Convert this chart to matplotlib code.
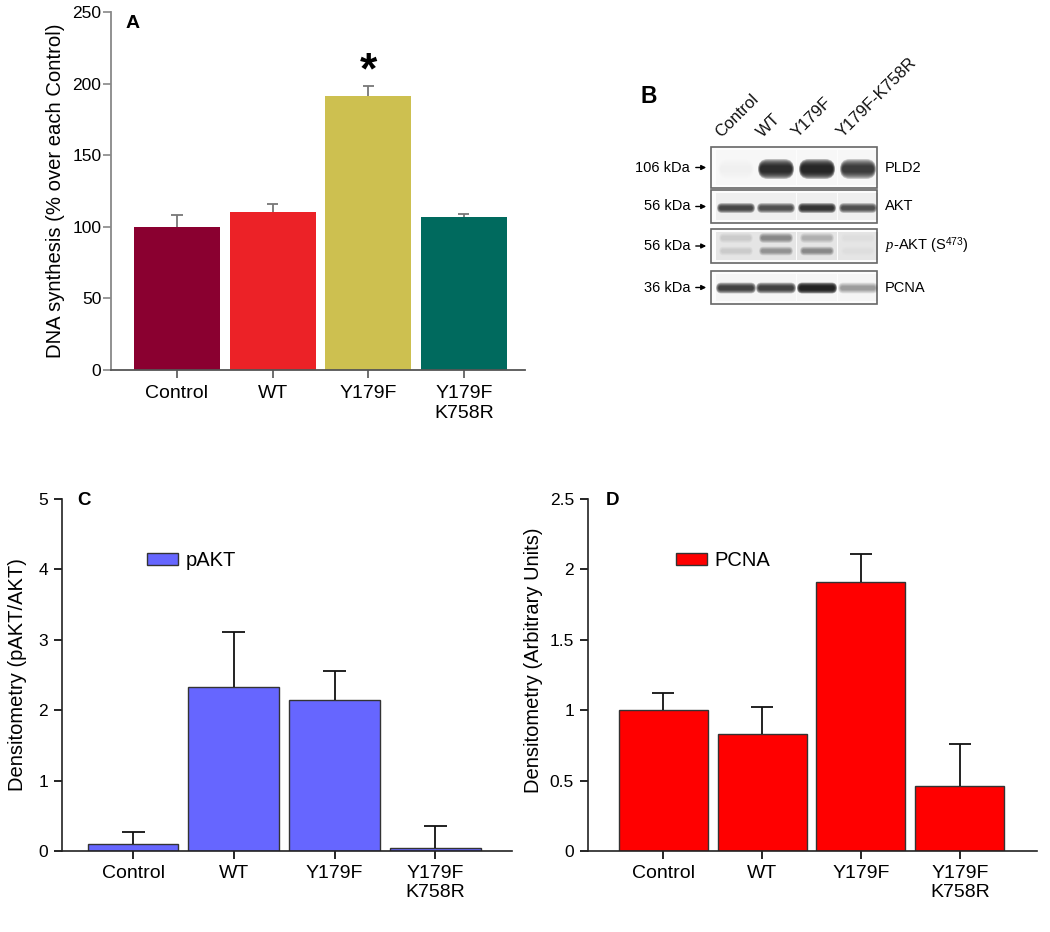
import numpy as np
import matplotlib
matplotlib.use("Agg")
import matplotlib.pyplot as plt
from matplotlib.patches import Rectangle, FancyBboxPatch

plt.rcParams['font.family'] = ['Liberation Sans', 'DejaVu Sans']
plt.rcParams['mathtext.fontset'] = 'custom'
plt.rcParams['mathtext.rm'] = 'Liberation Sans'
plt.rcParams['mathtext.it'] = 'Liberation Serif:italic'

W, H = 1050, 932

# data
groups = ['Control', 'WT', 'Y179F', 'Y179F\nK758R']

dna_synth = [100, 110, 191, 107]
dna_err = [8, 6, 7, 2]
dna_colors = ['#8A0030', '#EC2227', '#CDC050', '#006A5E']

pakt = [0.10, 2.33, 2.15, 0.04]
pakt_err = [0.17, 0.78, 0.40, 0.31]

pcna = [1.00, 0.83, 1.91, 0.46]
pcna_err = [0.12, 0.19, 0.20, 0.30]

# western blot (panel B), band darkness 0..1 per lane
blot_lanes = ['Control', 'WT', 'Y179F', 'Y179F-K758R']
blot_rows = ['PLD2', 'AKT', '$p$-AKT (S$^{473}$)', 'PCNA']
blot_kda = ['106 kDa', '56 kDa', '56 kDa', '36 kDa']
pld2_band = [0.04, 0.92, 0.95, 0.85]
akt_band = [0.80, 0.75, 0.88, 0.75]
pakt_upper = [0.12, 0.45, 0.25, 0.03]
pakt_lower = [0.12, 0.40, 0.45, 0.03]
pcna_band = [0.82, 0.82, 0.97, 0.40]

fig = plt.figure(figsize=(W / 100, H / 100), dpi=100)


def px_axes(x0, y0, x1, y1):
    return fig.add_axes([x0 / W, 1 - y1 / H, (x1 - x0) / W, (y1 - y0) / H])


def up_errbar(a, vals, errs, color, cap, lw):
    tops = np.array(vals) + np.array(errs)
    a.vlines(x, vals, tops, color=color, lw=lw, zorder=3)
    a.hlines(tops, x - cap, x + cap, color=color, lw=lw, zorder=3)


x = np.arange(len(groups))

# ---- panel A
ax = px_axes(111, 12, 525, 370)
ax.bar(x, dna_synth, width=0.9, color=dna_colors, zorder=2)
up_errbar(ax, dna_synth, dna_err, '#777777', 0.058, 1.3)
ax.set_xlim(-0.69, 3.64)
ax.set_ylim(0, 250)
ax.set_yticks(range(0, 251, 50))
ax.set_xticks(x)
ax.set_xticklabels(groups)
ax.tick_params(axis='y', labelsize=12.5, length=6, width=1.2, color='#888888', pad=1)
ax.tick_params(axis='x', labelsize=14, length=6, width=1.2, color='#555555', pad=5)
for s in ['top', 'right']:
    ax.spines[s].set_visible(False)
ax.spines['left'].set_color('#888888')
ax.spines['left'].set_linewidth(1.3)
ax.spines['bottom'].set_color('#555555')
ax.spines['bottom'].set_linewidth(1.3)
ax.set_ylabel('DNA synthesis (% over each Control)', fontsize=14.6)
ax.yaxis.set_label_coords(-0.11, 0.5)
ax.text(2, 208, '*', ha='center', va='center', fontsize=32, fontweight='bold')


def densito(box, vals, errs, color, label, ymax, yticks, ytl, ylabel, lx,
            ylab_x, ylab_y):
    a = px_axes(*box)
    a.bar(x, vals, width=0.9, color=color, edgecolor='#333333', linewidth=1.0,
          label=label, zorder=2)
    up_errbar(a, vals, errs, '#111111', 0.114, 1.3)
    a.set_ylim(0, ymax)
    a.set_yticks(yticks)
    a.set_yticklabels(ytl)
    a.set_xticks(x)
    a.set_xticklabels(groups)
    a.tick_params(axis='y', labelsize=12.5, length=6, width=1.2, pad=4)
    a.tick_params(axis='x', labelsize=14, length=6, width=1.2, pad=4)
    for s in ['top', 'right']:
        a.spines[s].set_visible(False)
    for s in ['left', 'bottom']:
        a.spines[s].set_linewidth(1.2)
        a.spines[s].set_color('#222222')
    a.set_ylabel(ylabel, fontsize=14.5)
    a.yaxis.set_label_coords(ylab_x, ylab_y)
    a.legend(loc='center left', bbox_to_anchor=(lx, 0.825), frameon=False,
             fontsize=14.5, handlelength=1.55, handleheight=0.55,
             handletextpad=0.35, borderpad=0, borderaxespad=0)
    return a


axc = densito((62, 499, 512, 851), pakt, pakt_err, '#6666FF', 'pAKT', 5,
              range(0, 6), [str(v) for v in range(0, 6)],
              'Densitometry (pAKT/AKT)', 0.189, -0.078, 0.5)
axc.set_xlim(-0.705, 3.76)

axd = densito((588, 499, 1037, 851), pcna, pcna_err, '#FF0000', 'PCNA', 2.5,
              [0, 0.5, 1, 1.5, 2, 2.5], ['0', '0.5', '1', '1.5', '2', '2.5'],
              'Densitometry (Arbitrary Units)', 0.196, -0.1, 0.543)
axd.set_xlim(-0.76, 3.78)

# ---- overlay: panel letters + western blot
ov = fig.add_axes([0, 0, 1, 1])
ov.set_xlim(0, W)
ov.set_ylim(H, 0)
ov.axis('off')

ov.text(126, 15, 'A', fontsize=14, fontweight='bold', va='top', ha='left')
ov.text(640, 85, 'B', fontsize=16.5, fontweight='bold', va='top', ha='left')
ov.text(77, 492, 'C', fontsize=13.5, fontweight='bold', va='top', ha='left')
ov.text(606, 492, 'D', fontsize=13.5, fontweight='bold', va='top', ha='left')

lane_x = [736, 776, 817, 858]
label_x = [721, 763, 798, 843]
for lx_, name in zip(label_x, blot_lanes):
    ov.text(lx_, 138, name, rotation=45, rotation_mode='anchor', ha='left',
            va='baseline', fontsize=12, color='#111111')


def band(cx, cy, w, h, v, layers=7):
    a = 1 - (1 - v * 0.96) ** (1 / layers)
    for k in range(layers):
        s = 1 - k / (layers + 2)
        ww, hh = w * (0.8 + 0.2 * s), h * s
        ov.add_patch(FancyBboxPatch((cx - ww / 2, cy - hh / 2), ww, hh,
                                    boxstyle='round,pad=0,rounding_size=%.2f' % (hh / 2),
                                    facecolor='#141414', alpha=a, lw=0))


boxes = [(147, 188), (190, 223), (229, 263), (271, 304)]
lane_bg = [0.02, 0.06, 0.10, 0.03]
for (y0, y1), bg in zip(boxes, lane_bg):
    ov.add_patch(Rectangle((711, y0), 166, y1 - y0, facecolor='#fcfcfc',
                           edgecolor='#666666', linewidth=1.2))
    for cx in lane_x:
        ov.add_patch(Rectangle((cx - 20, y0 + 3), 40, y1 - y0 - 6,
                               facecolor='#202020', alpha=bg, lw=0))

for cx, v in zip(lane_x, pld2_band):
    band(cx, 169, 36, 20, v)
for cx, v in zip(lane_x, akt_band):
    band(cx, 208, 38, 10, v)
for cx, v in zip(lane_x, pakt_upper):
    band(cx, 238, 34, 10, v)
for cx, v in zip(lane_x, pakt_lower):
    band(cx, 251, 34, 9, v)
for cx, v in zip(lane_x, pcna_band):
    band(cx, 288, 40, 11, v)

for (y0, y1), rname, kda in zip(boxes, blot_rows, blot_kda):
    yc = (y0 + y1) / 2
    ov.text(885, yc, rname, ha='left', va='center', fontsize=10.5)
    ov.text(690, yc, kda, ha='right', va='center', fontsize=10.5)
    ov.annotate('', xy=(709, yc), xytext=(693, yc),
                arrowprops=dict(arrowstyle='-|>', lw=1.0, color='black',
                                mutation_scale=7))

fig.savefig('out.png', dpi=100)
